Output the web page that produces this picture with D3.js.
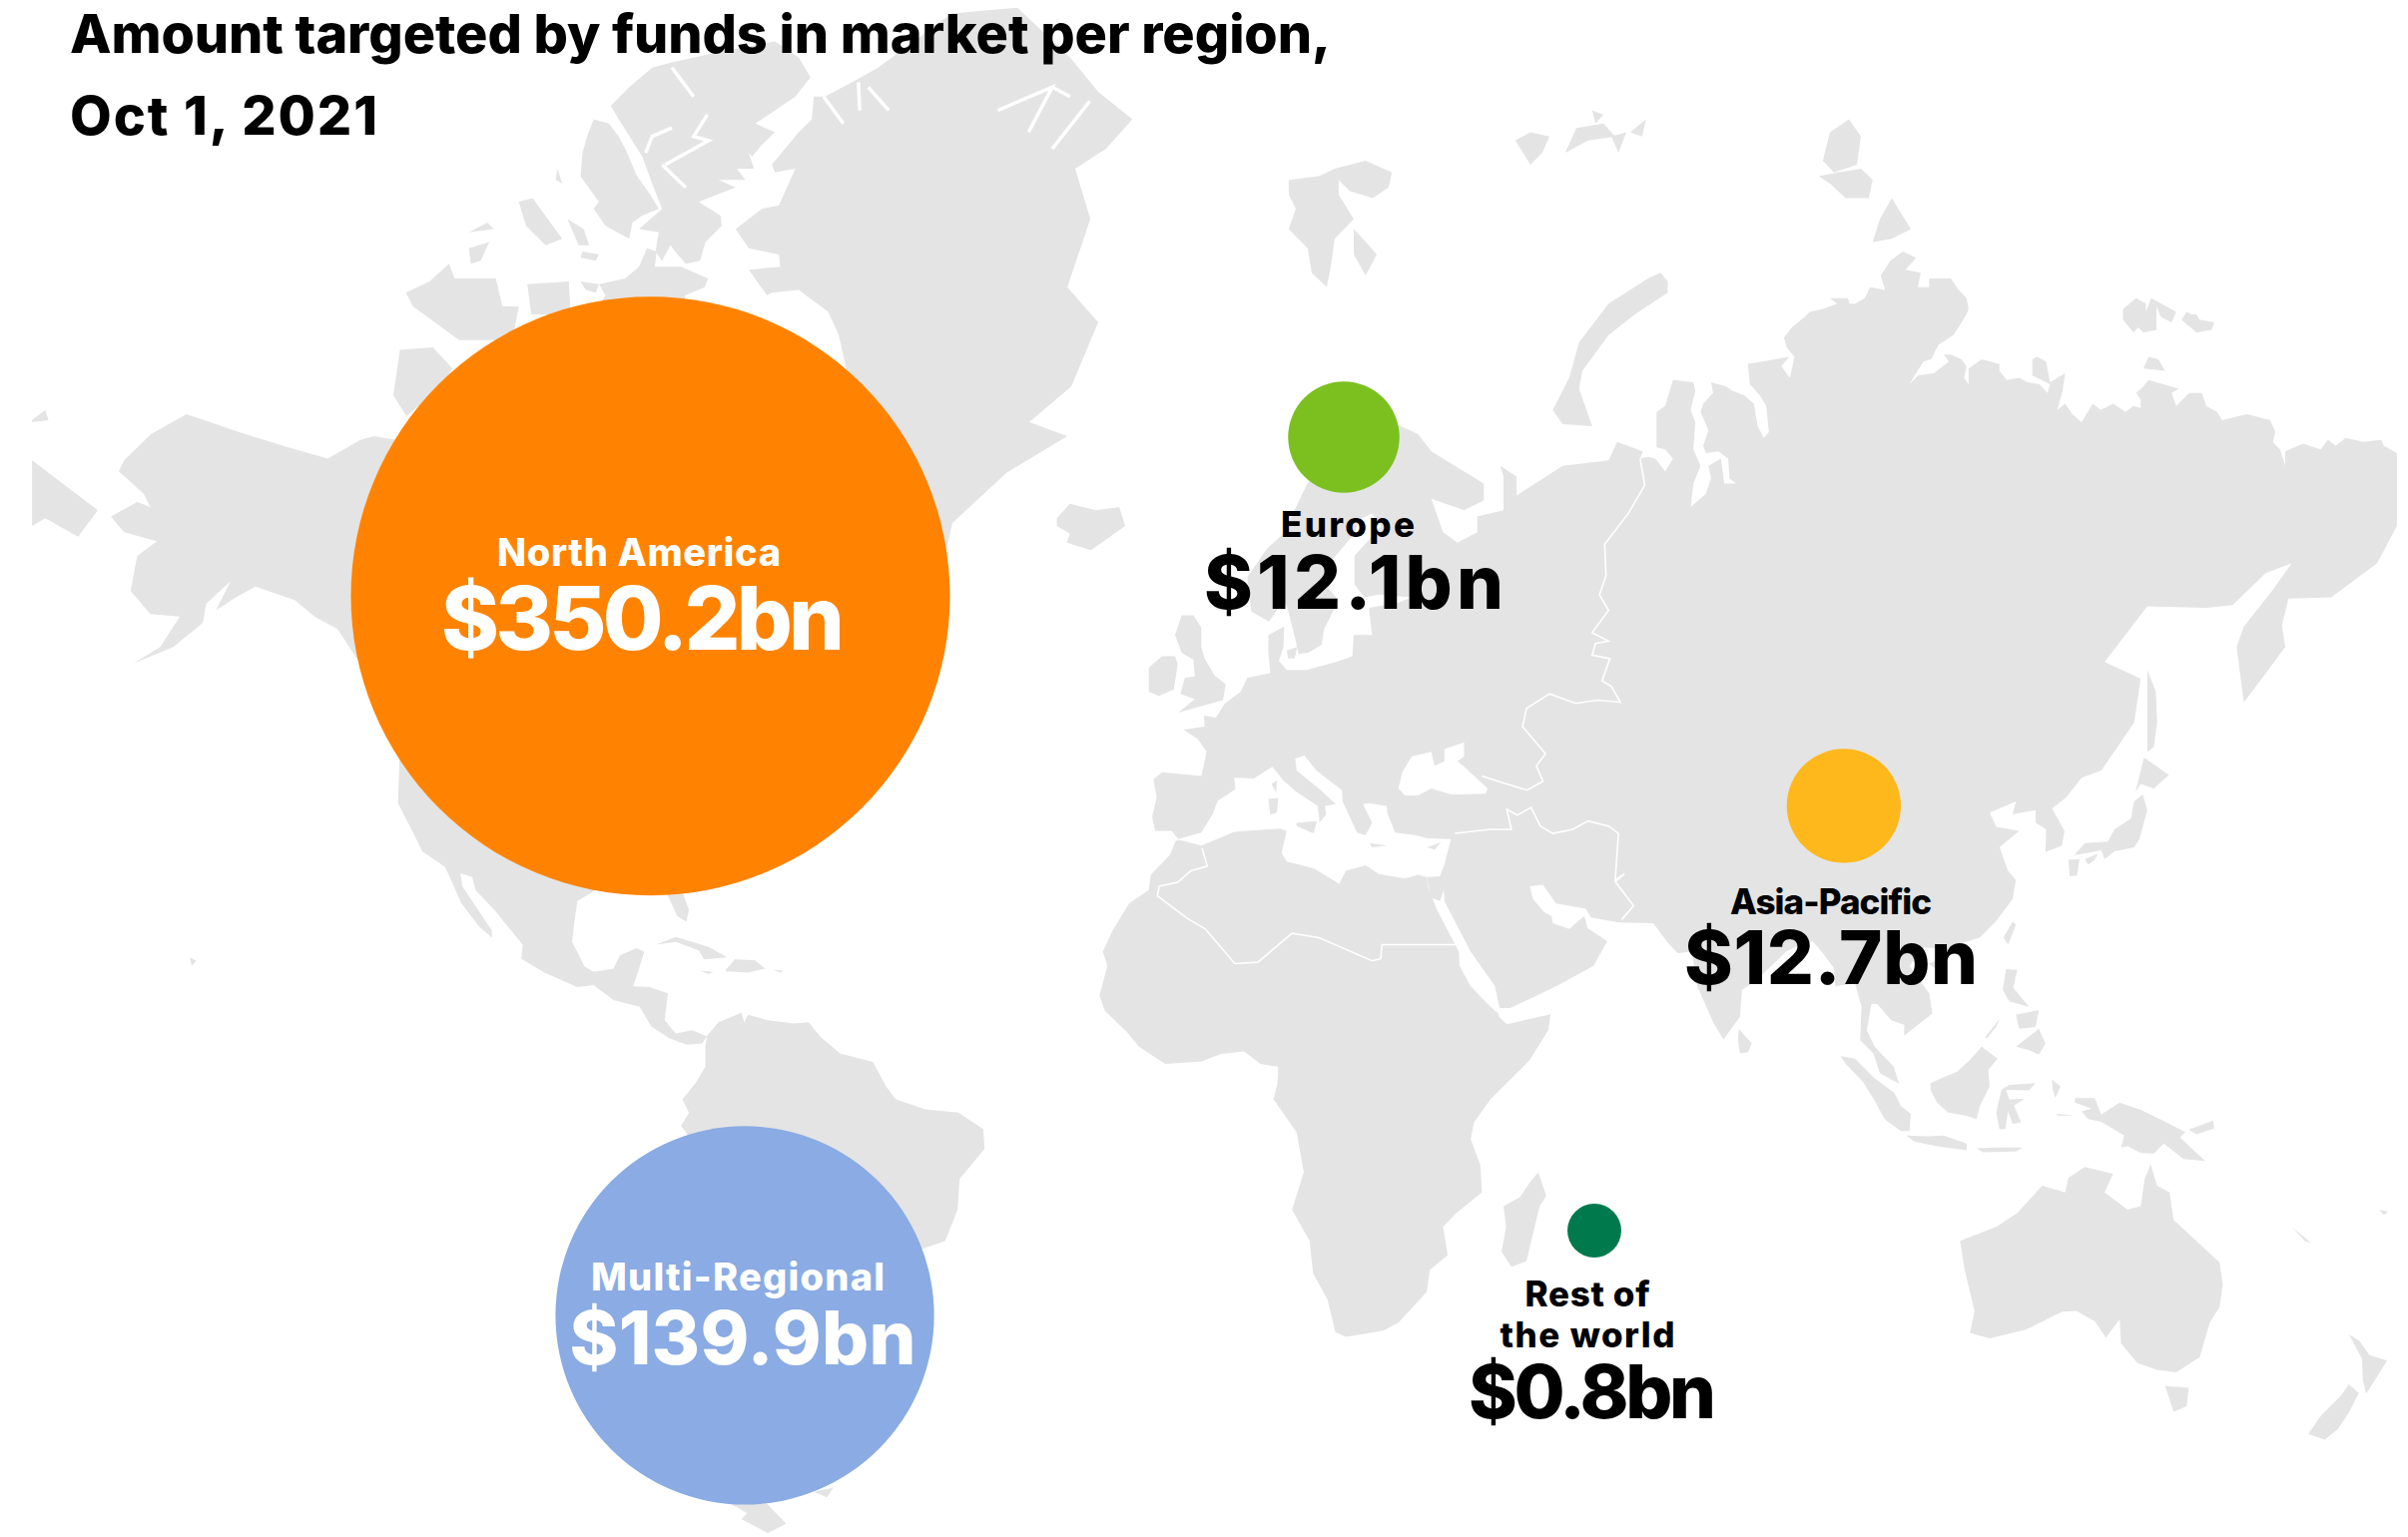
<!DOCTYPE html>
<html>
<head>
<meta charset="utf-8">
<script src="https://cdn.jsdelivr.net/npm/d3@7"></script>
<style>
	html, body { margin: 0; background: #fff; }
	svg { display: block; }
	text { font-family: Inter, Lato, sans-serif; font-weight: 800; }
</style>
</head>
<body>
<svg id="chart" width="2412" height="1540"></svg>
<script>
// DATA
const titleLines = ['Amount targeted by funds in market per region,', 'Oct 1, 2021'];
const regions = ['North America', 'Multi-Regional', 'Europe', 'Asia-Pacific', 'Rest of\nthe world'];
const amounts = [350.2, 139.9, 12.1, 12.7, 0.8];
const lonLat = [[-85.87, 60.1], [-71.5, -32.06], [19.68, 70.14], [95.8, 39.99], [57.83, -20.52]];

// land outlines, [lon, lat]
const continents = [
	// North America
	[[-168,65.6],[-164,66.5],[-162,66.2],[-163,67],[-166.8,68.3],[-166,68.9],[-161.9,70.3],[-156.5,71.3],[-152,70.8],[-148.5,70.4],[-141,69.6],[-135,69],[-130,70],[-128,70.2],[-124.5,70],[-120,69.4],[-115,68.9],[-110,67.9],[-102,67.9],[-96,68.2],[-94.5,71.9],[-92,69.7],[-88,68.7],[-85,69.8],[-81.3,69.1],[-81.5,67],[-87,65.3],[-91,63.5],[-94,61],[-94.2,58.8],[-92.5,57],[-82.3,55.2],[-82.2,52.9],[-80.5,51.3],[-79,51.5],[-78.8,54],[-79.7,54.7],[-76.5,56.5],[-78.5,58.7],[-77.5,60.5],[-78,62.4],[-73.5,62.4],[-70,61],[-69.5,59],[-66.5,58.7],[-65,60.3],[-62,57.5],[-60,55.3],[-56,52.5],[-58,51.3],[-60,50.2],[-66.5,50.2],[-68.5,49],[-71,46.9],[-65,49.2],[-64.5,47.5],[-64.5,46.2],[-61,45.9],[-60,46.3],[-61,45.2],[-65.5,43.5],[-66,44.5],[-64.5,45.5],[-67,45],[-70,43.7],[-70.7,42],[-70,41.7],[-74,40.6],[-75,38.5],[-76,37],[-75.5,35.3],[-78,33.9],[-81,32],[-81.3,30],[-80,26.8],[-80.4,25.2],[-81.8,26],[-82.8,28],[-84,30],[-85.5,29.7],[-89,30.3],[-89.3,29],[-91.5,29.5],[-94,29.6],[-97,28],[-97.4,25.5],[-97.8,22.4],[-95.9,18.9],[-94.5,18.1],[-91.5,18.6],[-90.5,20.5],[-88,21.5],[-86.8,21],[-87.7,18.3],[-88.5,16],[-86,15.9],[-83.2,15],[-83.7,11],[-82,9],[-79.5,9.5],[-77.3,8.6],[-78,7.5],[-80.3,7.3],[-83,8.3],[-85.7,10],[-87.5,13],[-91.5,14],[-94.5,16.2],[-97,15.9],[-102,18],[-105.5,20],[-105.3,22],[-108,25],[-109.5,26.7],[-112.5,29.5],[-113,31.2],[-114.8,31.7],[-114.5,30],[-111.5,26],[-110,24],[-110,23],[-112,24.6],[-114.7,27.8],[-115.8,30],[-117.1,32.5],[-120.6,34.5],[-122,36.8],[-124.3,40.3],[-124,46.2],[-124.7,48.4],[-122.5,47.5],[-122.8,49],[-127,51],[-130,54.5],[-133.5,57.5],[-137,58.5],[-140,59.8],[-146,60.8],[-149,60],[-152,59],[-149.8,61.2],[-153.5,59.5],[-154,58],[-158.5,56],[-164.5,54.6],[-160.5,56],[-157.5,58.5],[-162,58.7],[-165,60.5],[-164,63],[-161,64],[-166,64.6]],
	// South America
	[[-77.3,8.6],[-75.5,10.7],[-72,12.1],[-71.6,10.7],[-71,11.8],[-68,11],[-64,10.5],[-61.8,10.7],[-60,8.5],[-57,6],[-52,4.7],[-50,1],[-48.5,-1],[-44,-2.5],[-39,-3],[-35.2,-5.5],[-35,-8.5],[-38.8,-13],[-39.1,-17.5],[-41,-22],[-44.5,-23.1],[-48.5,-25.5],[-48.7,-28.5],[-52,-32.5],[-54,-34.8],[-57,-34.5],[-58.4,-34],[-57,-36.5],[-58,-38.3],[-62,-39],[-62.3,-40.8],[-65,-41],[-63.7,-42.7],[-65.5,-45],[-67.5,-46],[-65.8,-47.5],[-69,-50.5],[-68.3,-52.4],[-71,-53.8],[-74,-52.8],[-75.5,-49],[-74.5,-44],[-73.5,-41.5],[-73.5,-37],[-71.5,-32],[-70.5,-25],[-70.2,-18.5],[-76,-14],[-79,-8],[-81.2,-5],[-80,-3],[-81,-1],[-79,1.5],[-77.5,4],[-77.5,7]],
	// Africa
	[[-5.9,35.8],[-5.3,35.9],[-2,35.2],[3,36.9],[10,37.3],[11,37],[10.2,34.3],[11,33.2],[15.2,32.3],[19,30.3],[20,32],[23,32.7],[25,31.6],[29,31],[31,31.5],[32.3,31.2],[32.5,30],[33.8,27],[35.5,24],[37.2,21],[37.3,19],[39,16],[42,13],[43.2,12],[43.3,11.5],[44.5,10.4],[51.2,11.9],[50.8,9.5],[48,5],[42,-1],[39.5,-4.5],[39,-7],[40.5,-11],[40.7,-15],[36.8,-18],[34.8,-20],[35.5,-24],[32.8,-26],[32.3,-29],[28,-33],[25.7,-34],[20,-34.8],[18.4,-34.2],[17.2,-30],[15,-26.5],[14.5,-22],[11.8,-17.5],[13.6,-12],[12.5,-6],[9,-1],[9.6,1.5],[9.7,4],[7,4.4],[4.5,6.3],[1,5.9],[-2,4.8],[-7.5,4.4],[-11.5,7],[-13.3,9.2],[-16.7,12.4],[-17.5,14.7],[-16.3,19],[-17,21],[-15.5,24],[-13,27.7],[-10,29.5],[-9.7,31.5],[-6.8,34]],
	// Eurasia
	[[-9,37],[-9.5,38.7],[-8.8,41],[-9.3,43],[-8,43.8],[-2,43.4],[-1.2,46],[-2.5,47.3],[-4.7,48.3],[-1.5,48.6],[-1.6,49.7],[0.2,49.5],[1.6,50.9],[4,52],[5,53.3],[8.5,53.7],[8.2,55.5],[8.2,57],[10.6,57.7],[10.5,56],[9.8,54.8],[11,54],[14,54],[18.5,54.7],[21,55.2],[21.2,57],[24,57],[23.5,59.2],[28,59.6],[30,60],[25,60.2],[22.8,60],[21.3,61],[21.3,63],[25.4,65],[24,65.8],[22,65.4],[21.3,64.5],[17.5,62.5],[17.3,60.7],[18.9,59.8],[16.7,57.5],[16.3,56.2],[14.3,55.5],[12.8,55.4],[12.3,56.7],[11.2,59],[10.6,59.8],[8.3,58.1],[5.6,58.9],[5,61.5],[8,63.5],[10.5,64.5],[14,67.5],[16,68.7],[20,70],[25.7,71.1],[31,70.3],[33,69.4],[41,67.6],[41,66.6],[38,66],[33,66.7],[34.8,64.6],[37,63.9],[40,64.6],[40,65.6],[44,66],[44,68],[43.5,68.6],[46,68],[46,66.9],[53,68.6],[60,68.9],
		[61.3,69.9],[65.2,69.4],[64.8,69],[65.9,69.1],[67.1,69],[68.6,68.3],[69.8,69],[68.6,69.5],[67.3,69.6],[67.3,70.9],[67.3,71.4],[68.6,71.7],[69.8,72.9],[72.9,72.8],[73.2,72.4],[72.5,71.5],[73.2,70.9],[72.9,69.5],[74,68.6],[72.9,67.6],[72.5,66.2],[74.8,67],[75.6,67.9],[75.2,68.6],[77.1,69],[77.6,67.6],[79.4,67.6],[78.4,67.9],[78.2,69],[76.7,69.4],[74.8,69.3],[74.4,69.7],[75.2,70.5],[74,71.4],[74.4,71.8],[75.9,72.3],[75.6,72.8],[77.9,72.6],[78.9,72.4],[80.6,72.2],[82.1,71.8],[82.7,70.7],[83.6,70.1],[84.4,70.4],[84,71.7],[83,72.2],[81.5,72.7],[81.2,73.6],[87.5,73.9],[86.3,73.5],[87.6,73],[88.3,73.9],[87.1,74.3],[86.7,74.7],[87.9,75.1],[89.8,75.5],[90.6,75.7],[92.5,75.8],[94.8,76],[93.7,76.2],[96.4,76.2],[96.7,76],[97.5,76],[99,76.2],[99.8,76.6],[102.1,76.5],[101.4,77],[102.9,77.5],[104.8,77.8],[106.8,77.6],[105.2,77.2],[107.5,77.1],[107.1,76.6],[108.8,76.6],[108.8,76.9],[112.1,76.9],[113.3,76.5],[114.5,76.2],[114.8,75.8],[114.5,75.6],[112.5,74.8],[110.2,74.4],[109.1,73.8],[107.9,73.7],[106.8,73.2],[105.8,72.7],[107.1,73.1],[109.5,73.2],[111.8,73.7],[111,74],[112.1,74],[113.7,73.8],[114.5,73.5],[114.1,73],[114.8,72.7],[114.8,73.4],[116.8,73.8],[119.5,73.6],[119.5,73.3],[120.6,72.9],[122.5,73],[123.7,72.8],[125.6,72.7],[126.8,72.3],[127.2,72.7],[124.5,73.1],[124.5,73.8],[125.2,73.9],[126.6,73.7],[127.2,72.8],[129.5,73.2],[129.1,72.4],[128.3,71.5],[129.5,71.8],[130.6,71.3],[132,70.9],[133.7,71.8],[134.9,71.5],[136.8,71.8],[138.7,71.4],[139.9,71.7],[141,71.6],[141,72],[140.3,72.3],[141.4,72.6],[142.2,72.9],[146.8,72.5],[145.7,72.3],[146.4,71.7],[148.4,72.3],[150.3,72.3],[151,71.7],[152.6,71.4],[153.4,71],[157.2,71.3],[160.7,71],[161.5,70.4],[161.1,69.9],[162.2,69.5],[163,68.6],[163,69.4],[165.7,69.8],[168.4,69.5],[169.5,70],[170.7,69.7],[172.2,70.1],[174.9,69.9],[177.6,70],[178,69.7],[180,69.3],
		[180,65],[177,62.5],[170,60],[163.5,59.9],[162.5,57.8],[163,56],[159.8,53.5],[156.7,51],[155.6,56],[156.7,57.7],[161,60.5],[164,62.5],[160,61.8],[155,59.4],[151,59.2],[142,59.3],[135.5,54.7],[141,53.2],[140,49],[135,44],[132,43.2],[129.7,41],[127.5,39.7],[129.4,37],[129,35.2],[126.5,34.4],[126.6,37.2],[125,38],[125,39.5],[121.5,39],[122,40.5],[118,39.2],[119,37.5],[122.5,37],[119.5,35],[120.8,32],[122,30.8],[121.5,28.3],[119,25.3],[116.5,23],[114,22.3],[110.3,20.5],[109.8,21.5],[108,21.6],[105.8,19],[108.8,15],[109.3,12],[105,8.7],[105,10.3],[103,11],[100.9,13.4],[100,13.4],[99.3,9.5],[100.5,7],[103.4,4],[104.2,1.4],[101.3,3],[100.3,6],[98.3,8],[98.5,13],[97.5,16.5],[94.5,16],[94.3,18.7],[92,21.5],[91,22.5],[88.5,21.7],[87,21],[82.3,16.7],[80.3,15.5],[80,11.5],[78,8.8],[77.5,8.1],[76,10.5],[73.5,16],[72.7,21],[70.5,20.8],[69,22.3],[66.8,25],[61.5,25.1],[57.3,25.8],[56.5,27],[52,27.7],[50,30.2],[48,30],[48.5,28.3],[50.2,26.5],[51.3,26],[51.5,25],[54,24.2],[56.3,26],[56.8,24.3],[59.8,22.5],[57.7,19],[52,16],[45,12.8],[43.4,12.8],[42.7,16],[39,21],[35,28],[34.9,29.5],[34.3,28],[33,28.5],[32.6,30],[32.3,31.2],[34.3,31.3],[35,32.8],[36,36],[32.5,36.1],[30.5,36.5],[27.5,36.8],[26.3,39.2],[26.2,40],[23.5,40.3],[22.6,40.2],[24,38],[23,36.5],[21.7,36.8],[19.5,40.5],[19.4,41.8],[15.5,44],[13.7,45.6],[12.3,45.3],[12.5,44],[16,41.9],[18.5,40.2],[16.8,40],[17,39],[16,38],[15.7,40],[12.3,41.7],[10.5,42.9],[8.8,44.4],[6,43.1],[3,43.2],[3.2,41.9],[0.5,40.6],[-0.3,39],[-2,36.8],[-5.5,36],[-6.5,37]],
	// Australia
	[[113.5,-22],[114.2,-26],[115.7,-31.5],[115,-34.3],[118,-35],[123.5,-33.9],[129,-31.6],[131.2,-31.5],[134,-32.8],[135.7,-34.9],[137.8,-32.6],[138,-35.6],[140.5,-38],[143.5,-38.8],[146.4,-39.1],[150,-37.3],[151.5,-33],[153,-31],[153.5,-28],[153,-25],[149.5,-22],[146,-19],[145.4,-15],[143.5,-14],[142.5,-10.8],[141.6,-13],[141,-17],[139,-17.5],[135.5,-15],[136.8,-12.2],[132.5,-11.2],[130,-12.8],[129.5,-15],[126,-14],[122.2,-18],[119,-20],[114,-21.8]],
	// Chukotka past the date line
	[[-180,68.9],[-175,67.5],[-170,66],[-173,64.3],[-178,65.5],[-180,65]]
];

const islands = [
	// Greenland
	[[-43.9,59.9],[-48,61],[-51,63.5],[-52,65.5],[-53.5,67],[-51,69],[-54,70],[-55,72],[-57.2,74.8],[-58.8,75.7],[-63.3,76.5],[-67.4,76.4],[-68.1,76.3],[-70.9,77.2],[-66.1,77.3],[-66.3,77.7],[-70.9,77.9],[-72.9,78.5],[-68.9,79.1],[-66.3,79.2],[-65.1,79.7],[-63.8,80.2],[-66.9,80.1],[-67.4,80.3],[-63.3,81.1],[-61.3,81.4],[-61,81.9],[-59.3,81.9],[-55.2,82.2],[-51.2,82.5],[-40,83.5],[-30,83.6],[-22,82.7],[-17.7,82],[-12.5,81.4],[-16.5,80.7],[-21.2,80.2],[-18.9,78.8],[-22.4,76.6],[-17.7,75.3],[-21.8,72.6],[-28.2,70.9],[-22.4,70.2],[-31.7,68.2],[-39.9,65.2],[-41,63],[-43,60.5]],
	// Canadian Arctic
	[[-80,73.7],[-72,71.5],[-68,70],[-62,67],[-62,65.8],[-65,63],[-66,62],[-71,63],[-74.5,64.5],[-78,65],[-73,66],[-73,68.2],[-78,70],[-85,70],[-89,71],[-89,73.5],[-81,73.7]],
	[[-117,73],[-105,73],[-101,69.7],[-105,68.6],[-113,68.6],[-117,70],[-119,71.5]],
	[[-125,72.2],[-123,71.2],[-118,72.5],[-116,73.4],[-119,74.3],[-124,74.2]],
	[[-123.1,76.4],[-119.5,76.8],[-116.5,77.4],[-115.7,76.9],[-109.4,76.9],[-108.4,75.9],[-105.9,75.9],[-106.9,74.6],[-115,74.6],[-122,75.9]],
	[[-104.6,76.7],[-98.3,76.8],[-98,75.6],[-104,75.6]],
	[[-96.5,76.8],[-93.7,76.7],[-94.2,76.4],[-95.7,76.5]],
	[[-96.2,77.8],[-93.7,77.7],[-94.2,77.5],[-96.5,77.6]],
	[[-89.7,76.9],[-87.6,77.3],[-86.4,77.9],[-84.9,77.8],[-85.2,77.3],[-81.2,77.3],[-77.1,76.9],[-77.6,76.6],[-80.6,76.3],[-80,74.6],[-96,75],[-92.7,76.3],[-93.7,76.7]],
	// Ellesmere
	[[-91.9,81.7],[-89.1,82.1],[-85.6,82.5],[-82.6,82.6],[-75.5,82.8],[-66.9,83],[-63.3,82.7],[-61.5,82.3],[-63.8,81.9],[-69.9,81.3],[-66.9,81.1],[-68.9,80.8],[-70.4,80.5],[-70.9,80.6],[-70.1,80.2],[-72.7,80.2],[-71.4,79.9],[-75.5,79.9],[-72.9,79.7],[-78.5,79.3],[-75.2,78.9],[-75,78.6],[-77.5,78.1],[-78.3,77.5],[-80.5,77.4],[-82.1,77.8],[-82.8,78],[-84.1,77.5],[-85.1,77.8],[-84.6,78.4],[-87.6,78.5],[-84.1,79.1],[-85.6,79.8],[-87.1,80.5],[-90.7,81.4]],
	// Axel Heiberg
	[[-92.2,81.3],[-90.7,81],[-89.7,80.7],[-87.9,80],[-85.9,79.5],[-84.6,79.1],[-87.1,78.9],[-88.6,78.7],[-89.1,78.2],[-92.7,78.6],[-94.5,79.1],[-93.7,79.3],[-94.5,79.5],[-96.5,80],[-96.2,80.6],[-95.5,81],[-94.5,81.4]],
	[[-98.5,78.8],[-96,78.5],[-95.2,78],[-96.8,78]],
	[[-105.9,79.3],[-103.8,79.4],[-99.3,78.2],[-101.8,78],[-104.8,78.6]],
	[[-113.5,78.4],[-110.7,78.7],[-109.7,78.5]],
	[[-113.5,77.9],[-110.4,78.1],[-111.7,77.5],[-113.2,77.4]],
	[[-100,80.2],[-99.3,79.8],[-100.3,79.9]],
	[[-96,74],[-90,73.8],[-92,71.8],[-96,72]],
	[[-102,73.5],[-97,74],[-96,71.8],[-100,71.5]],
	[[-87,65.5],[-83,65.8],[-80.5,64],[-85,62.8],[-87,64]],
	[[-59,47.6],[-53,46.7],[-52.7,47.7],[-54,49.5],[-56,51.5],[-57.5,50.7]],
	[[-128.3,50.6],[-125,50],[-123.4,48.4],[-125.5,48.8]],
	[[-85,22],[-82,23.1],[-77,21.7],[-74.2,20.2],[-77.7,19.9],[-78.5,21.2],[-82,22.4]],
	[[-74.4,18.4],[-73,19.9],[-70,19.8],[-68.4,18.6],[-71,18],[-74.4,18.2]],
	[[-78.3,18.3],[-76.3,18.1],[-77,17.8]],
	[[-67.2,18.4],[-65.7,18.3],[-66,18]],
	[[-156,20.2],[-155,19.7],[-155.7,19]],
	[[-68.6,-52.6],[-65.2,-54.7],[-68,-55.5],[-72,-54.3],[-70,-53]],
	[[-61,-51.8],[-58,-51.4],[-59,-52.3]],
	[[-24,65.5],[-22,66.4],[-18,66],[-14.5,66.2],[-13.6,65],[-18.8,63.4],[-22.5,63.9],[-22,64.5],[-24,65]],
	[[-5.5,50],[1.3,51.2],[1.7,52.7],[0,53.5],[-1.5,55],[-2,56],[-2,57.6],[-3.2,58.6],[-5,58.6],[-6,57],[-5,55.5],[-3.2,54.9],[-3,53.4],[-4.5,53.3],[-5.2,51.8],[-3,51.3]],
	[[-10,52],[-10,54.2],[-8,55.2],[-6,55.2],[-5.6,54.5],[-6.2,52.2],[-8.5,51.6]],
	// Svalbard
	[[11.3,79.9],[15.9,80],[18.3,80.2],[23,80.4],[27,80.1],[26.5,79.7],[24.1,79.4],[20.6,79.6],[18.9,79.9],[18.9,79.5],[21.2,78.8],[18.3,78.2],[17.7,77.3],[17.1,76.6],[14.8,77.1],[14.2,77.9],[11.3,78.5],[12.4,79.1],[11.3,79.5]],
	[[21.2,78.5],[23.5,78],[24.7,77.7],[23,77],[21.2,77.7]],
	// Novaya Zemlya
	[[67.9,77.1],[69,76.8],[69,76.4],[64,75.6],[60,74.8],[56,73.3],[55.5,72.5],[57.5,70.7],[53,70.8],[51.5,71.5],[54,73],[55.5,74.5],[60,76],[66,76.9]],
	// Franz Josef Land
	[[45.8,80.9],[48.1,81.1],[51,81],[49.9,80.6],[48.1,80.3]],
	[[60.4,81],[62.7,81.1],[61.5,80.6]],
	[[63.3,81.1],[65.7,81.4],[65.1,81]],
	[[55.1,81.2],[59.2,81.3],[61,81],[56.9,80.9],[53.4,80.6]],
	[[57.5,81.6],[59.2,81.5],[58,81.3]],
	// Severnaya Zemlya
	[[92.6,80.4],[93.7,81.1],[96.6,81.4],[98.4,81],[97.8,80.3],[94.3,80.1]],
	[[92,80],[94.9,80.1],[98.4,80.2],[100.2,79.9],[99.6,79.4],[96.1,79.4],[93.7,79.8]],
	[[101.3,78.8],[103.1,79.4],[106,78.5],[103.1,78.2],[100.2,78.1]],
	// New Siberian Islands
	[[138.3,75.8],[140.3,76.2],[141.8,76],[141.8,75.7],[142.6,76.2],[144.9,75.9],[146.4,75.7],[145.7,75.3],[144.1,75.5],[143.4,75.9],[143.4,75],[141.4,74.9],[140.6,75.1],[139.9,74.9],[138.3,75.4]],
	[[147.2,75.4],[148,75.7],[148.7,75.6],[149.5,75.6],[149.9,75.4],[152.2,75.3],[151.8,75],[149.5,74.9]],
	[[142.2,73.9],[143.7,73.8],[144.7,73.3],[141.4,73.4]],
	[[-180,71],[-178,71.5],[-177.5,71],[-180,70.9]],
	[[142,54],[143.3,52],[143.5,49],[143,46.5],[142,46],[142,49],[142,53]],
	[[140.2,41.6],[141.5,45.4],[145.3,43.5],[143,42],[141,42.5]],
	[[130.9,34],[132.5,35.5],[136,35.7],[137,37.2],[139.5,38.5],[140,40.5],[141.3,41.3],[142,39.5],[140.8,36],[140,35],[137,34.5],[135.5,33.5],[135,34.6],[132.3,34.2]],
	[[130,33.4],[131.7,33.5],[131.3,31.4],[130.2,31.3]],
	[[132.5,33.5],[134.5,34.2],[134,33.4],[133,32.8]],
	[[121.5,25.2],[122,24.8],[120.8,22],[120.1,23]],
	[[108.7,19.3],[110.6,20],[110,18.4]],
	[[120.5,18.5],[122.2,18.4],[121.6,15.8],[124,13],[121,13.8],[120,15.5]],
	[[122,7],[125.5,9.7],[126.5,7.5],[125.5,5.8],[124,6.5]],
	[[122,11.8],[125.5,12.5],[125,10],[122.5,9.7]],
	[[117.3,8.4],[119.5,11.2],[119,10],[117.6,8.3]],
	[[109,1.5],[111.3,2.5],[113,3.2],[115,5],[116.8,7],[119.2,5.2],[117.8,3.5],[118,1],[116.5,-2],[116,-4],[114.5,-3.5],[111.7,-3],[110,-1.5],[109,0.5]],
	[[95.3,5.6],[97.5,5.2],[100.5,2.2],[103.5,0],[104.5,-2],[106,-3.2],[105.8,-5.8],[104.5,-5.8],[102,-4],[100.4,-1],[98.7,1.7],[96,4.5]],
	[[105.3,-6.5],[108.5,-6.6],[111,-6.5],[114.5,-7.7],[114.5,-8.7],[110,-8.1],[106.5,-7.4]],
	[[116,-8.4],[119,-8.3],[123,-8.3],[122,-8.9],[117,-9]],
	[[123.5,-10.3],[127,-8.4],[125,-9.5]],
	[[119.5,-5.5],[119,-3],[119.8,0.5],[121,1.2],[125,1.5],[124,0.4],[120.5,0.4],[121,-1],[123.3,-0.9],[121.7,-1.9],[122.8,-4.5],[121.5,-4.7],[120.8,-2.8],[120.4,-5.5]],
	[[127.5,2],[128.8,1],[128,-0.8],[127.6,0.5]],
	[[128,-3.2],[130.8,-3.4],[128.5,-3.5]],
	[[131,-0.8],[134,-0.8],[135,-3.3],[137.8,-1.5],[141,-2.6],[145,-4.5],[147.8,-6],[147,-6.8],[150.8,-10.3],[147.5,-10],[144.5,-7.7],[143,-9.2],[141,-9.1],[139,-8.1],[138,-8.3],[138.5,-6.5],[135,-4.4],[133,-4],[132,-2.8],[133.5,-2.4],[131,-1.5]],
	[[148.3,-5.6],[152,-4.2],[152.2,-5.4],[149.5,-6.3]],
	[[144.7,-40.7],[148.3,-40.9],[148,-43],[146,-43.6],[145.3,-42]],
	[[172.7,-34.5],[174.3,-35.3],[175.8,-37],[178.5,-37.7],[177,-39.6],[175.3,-41.6],[174.8,-39.9],[174.7,-37.5]],
	[[172.7,-40.5],[174.2,-41.5],[172.7,-43.7],[171,-45.5],[169,-46.6],[166.5,-46],[168.5,-44],[171.5,-41.8]],
	[[164,-20],[167,-22.3],[166,-22]],
	[[177.3,-17.5],[178.7,-17.8],[178,-18.3]],
	[[79.8,9.7],[81.8,7.5],[81.2,6.2],[80,6],[79.7,8]],
	[[12.5,38],[15.6,38.2],[15.1,36.7],[12.5,37.6]],
	[[8.2,40.8],[9.7,40.9],[9.5,39.2],[8.5,39]],
	[[8.7,42.5],[9.5,42.9],[9.4,41.5]],
	[[23.6,35.5],[26.3,35.2],[24,35]],
	[[32.3,35],[34.5,35.6],[33.5,34.7]],
	[[11,55.7],[12.6,56],[12.2,55],[11.2,55]],
	[[49.3,-12],[50.5,-15.5],[49.5,-17],[47.5,-24.8],[45.2,-25.6],[43.7,-23.5],[44.4,-20],[44,-17],[46.5,-15.7],[48,-13.5]]
];

// Black Sea and Azov
const inlandSeas = [
	[[29,41.2],[28,42],[28.6,43.8],[30,45.5],[33,46],[33.5,44.5],[35,45],[35,46.3],[38,47],[38,45.5],[37,45],[38,44.4],[41.6,42],[41.3,41.4],[36,41.3],[33,42],[31,41.2]]
];

// fjords cut into Ellesmere and north Greenland
const fjords = [
	[[-86.6,80.6],[-85.6,81],[-82.6,81.2]],
	[[-83.6,80.3],[-77,80.9],[-79.3,81],[-77.2,81.5]],
	[[-84.1,80.3],[-80.5,79.7]],
	[[-82.6,82.5],[-79.3,81.9]],
	[[-59.5,81.9],[-56.5,81.3]],
	[[-54.2,82.2],[-54,81.6]],
	[[-52.7,82.1],[-49.6,81.6]],
	[[-33,81.6],[-24.7,82.1],[-28.3,81.1]],
	[[-24.7,82.1],[-22,81.9]],
	[[-24.7,80.7],[-19,81.8]]
];

// white region borders
const regionBorders = [
	[[64.8,69],[65.5,67.5],[63,65.8],[59.4,63.8],[59.6,61.6],[58.6,60.2],[60,59],[57.5,57.2],[60,56.5],[58,56.3],[57.5,55.3],[60.2,55],[59,53],[60.4,52.5],[61.8,51],[58.3,51.2],[55,50.9],[51,51.8],[47.5,50.4],[46.9,48.6],[50.4,45.8],[49,44.5],[50,42.8],[47.6,41.8],[44,42.6],[40.7,43.4]],
	[[36.6,36.7],[42,37.2],[45.2,37.2],[44.5,39.6],[46.1,38.9],[48.2,39.8],[49.6,37.6],[51.5,36.7],[54.5,37.2],[56.9,38.2],[60,37.6],[61.5,36.7],[61,30.8],[62.4,31.6],[61,30.6],[63.8,27.4],[62,25.5]],
	[[-1.9,34.9],[-1.1,32.6],[-3.6,32],[-5.6,30.5],[-8.4,30],[-8.7,28.7],[-4.2,25.7],[-1.4,24.2],[3.1,19.3],[6.6,19.5],[11.8,23.6],[15.9,23],[24,19.7],[25.3,20],[25.5,22],[37,22]]
];

// LAYOUT
const colors = ['#ff8300', '#8aabe3', '#7cc020', '#ffb81c', '#007a4d'];
const labelX = [640, 739, 1350, 1834, 1590];
const labelY = [567, 1293, 538, 916, 1309];
const valueX = [644, 744, 1356, 1834, 1595];
const valueY = [651, 1367, 610, 986, 1421];
const labelSize = [38, 38, 35, 35, 35];
const labelWidth = [[284], [294], [134], [202], [125, 175]];
const valueSize = [88, 74, 74, 74, 74];
const valueWidth = [404, 347, 300, 294, 248];
const titleWidth = [1263, 308];
const inBubble = [true, true, false, false, false];

let svg = d3.select('#chart');

let projection = d3.geoMercator()
	.scale(377)
	.translate([1216.5, 1095]);

let line = d3.line()
	.x(d => projection(d)[0])
	.y(d => projection(d)[1]);

let radius = d3.scaleSqrt().domain([0, 350.2]).range([0, 300]);

svg.append('g')
	.selectAll('path')
	.data(continents.concat(islands))
	.join('path')
	.attr('d', d => line(d) + 'Z')
	.attr('fill', '#e4e4e4');

svg.append('g')
	.selectAll('path')
	.data(inlandSeas)
	.join('path')
	.attr('d', d => line(d) + 'Z')
	.attr('fill', '#fff');

svg.append('g')
	.selectAll('path')
	.data(fjords)
	.join('path')
	.attr('d', line)
	.attr('fill', 'none')
	.attr('stroke', '#fff')
	.attr('stroke-width', 3.5);

svg.append('g')
	.selectAll('path')
	.data(regionBorders)
	.join('path')
	.attr('d', line)
	.attr('fill', 'none')
	.attr('stroke', '#fff')
	.attr('stroke-width', 1.6);

// Title
svg.append('g')
	.selectAll('text')
	.data(titleLines)
	.join('text')
	.attr('x', 70)
	.attr('y', (d, i) => 53 + i * 82)
	.attr('font-size', 54)
	.attr('textLength', (d, i) => titleWidth[i])
	.text(d => d);

// Bubbles
svg.append('g')
	.selectAll('circle')
	.data(regions)
	.join('circle')
	.attr('cx', (d, i) => projection(lonLat[i])[0])
	.attr('cy', (d, i) => projection(lonLat[i])[1])
	.attr('r', (d, i) => Math.max(27, radius(amounts[i])))
	.attr('fill', (d, i) => colors[i]);

// Labels
regions.forEach(function(name, i) {
	let fill = inBubble[i] ? '#fff' : '#000';
	name.split('\n').forEach(function(part, j) {
		svg.append('text')
			.attr('x', labelX[i])
			.attr('y', labelY[i] + j * 41)
			.attr('text-anchor', 'middle')
			.attr('font-size', labelSize[i])
			.attr('textLength', labelWidth[i][j])
			.attr('fill', fill)
			.text(part);
	});
	svg.append('text')
		.attr('x', valueX[i])
		.attr('y', valueY[i])
		.attr('text-anchor', 'middle')
		.attr('font-size', valueSize[i])
		.attr('textLength', valueWidth[i])
		.attr('fill', fill)
		.text('$' + amounts[i].toFixed(1) + 'bn');
});
</script>
</body>
</html>
